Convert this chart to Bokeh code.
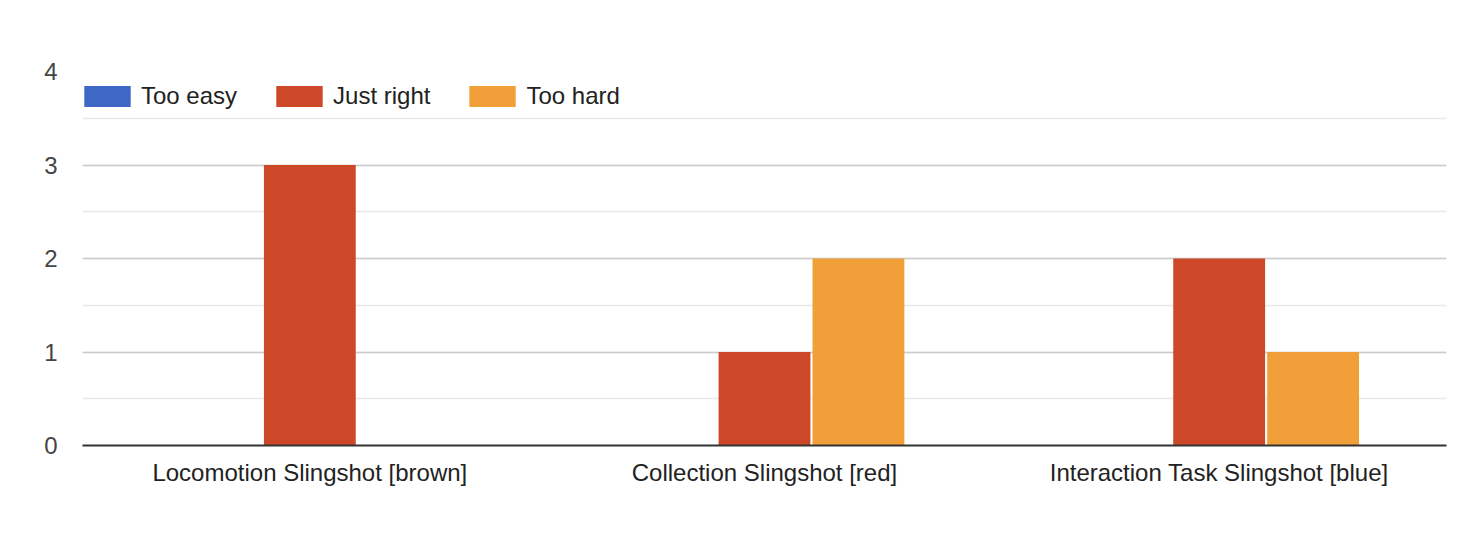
from bokeh.plotting import figure
from bokeh.models import ColumnDataSource, FactorRange, Range1d, SingleIntervalTicker, Legend, LegendItem
from bokeh.transform import dodge
from bokeh.embed import file_html
from bokeh.resources import INLINE

categories = ["Locomotion Slingshot [brown]", "Collection Slingshot [red]", "Interaction Task Slingshot [blue]"]
series_names = ["Too easy", "Just right", "Too hard"]
too_easy = [0, 0, 0]
just_right = [3, 1, 2]
too_hard = [0, 2, 1]
colors = ["#3f67c6", "#cc4829", "#f1a039"]

source = ColumnDataSource(data=dict(cat=categories, too_easy=too_easy, just_right=just_right, too_hard=too_hard))

FONT = "Liberation Sans"

p = figure(x_range=FactorRange(*categories, range_padding=0), y_range=Range1d(0, 4),
           width=1458, height=540, output_backend="svg", toolbar_location=None,
           min_border_left=82, min_border_right=12, min_border_top=71, min_border_bottom=95)
p.outline_line_color = None
p.background_fill_color = "white"
p.border_fill_color = "white"

offsets = [-0.2066, 0.0, 0.2066]
fields = ["too_easy", "just_right", "too_hard"]
renderers = []
for f, off, c in zip(fields, offsets, colors):
    r = p.vbar(x=dodge("cat", off, range=p.x_range), top=f, width=0.202, bottom=0,
               source=source, fill_color=c, line_color=None)
    renderers.append(r)

legend = Legend(items=[LegendItem(label=n, renderers=[r]) for n, r in zip(series_names, renderers)],
                orientation="horizontal", location=(-4, 335), background_fill_alpha=0,
                border_line_color=None, padding=0, margin=0, spacing=33,
                glyph_width=58, glyph_height=26, label_standoff=5, label_height=26,
                label_text_font=FONT, label_text_font_size="24px", label_text_color="#222222")
p.add_layout(legend, "center")

# grid
p.xgrid.grid_line_color = None
p.yaxis.ticker = SingleIntervalTicker(interval=1, num_minor_ticks=2)
p.ygrid.grid_line_color = "#cccccc"
p.ygrid.grid_line_width = 1.5
p.ygrid.minor_grid_line_color = "#e8e8e8"
p.ygrid.minor_grid_line_width = 1.5

# y axis
p.yaxis.axis_line_color = None
p.yaxis.major_tick_line_color = None
p.yaxis.minor_tick_line_color = None
p.yaxis.major_label_standoff = 19
p.yaxis.major_label_text_font = FONT
p.yaxis.major_label_text_font_size = "24px"
p.yaxis.major_label_text_color = "#444444"

# x axis
p.xaxis.axis_line_color = "#333333"
p.xaxis.axis_line_width = 2
p.xaxis.major_tick_line_color = None
p.xaxis.minor_tick_line_color = None
p.xaxis.major_label_standoff = 7
p.xaxis.major_label_text_font = FONT
p.xaxis.major_label_text_font_size = "24px"
p.xaxis.major_label_text_color = "#222222"

open("out.html", "w").write(file_html(p, INLINE))
